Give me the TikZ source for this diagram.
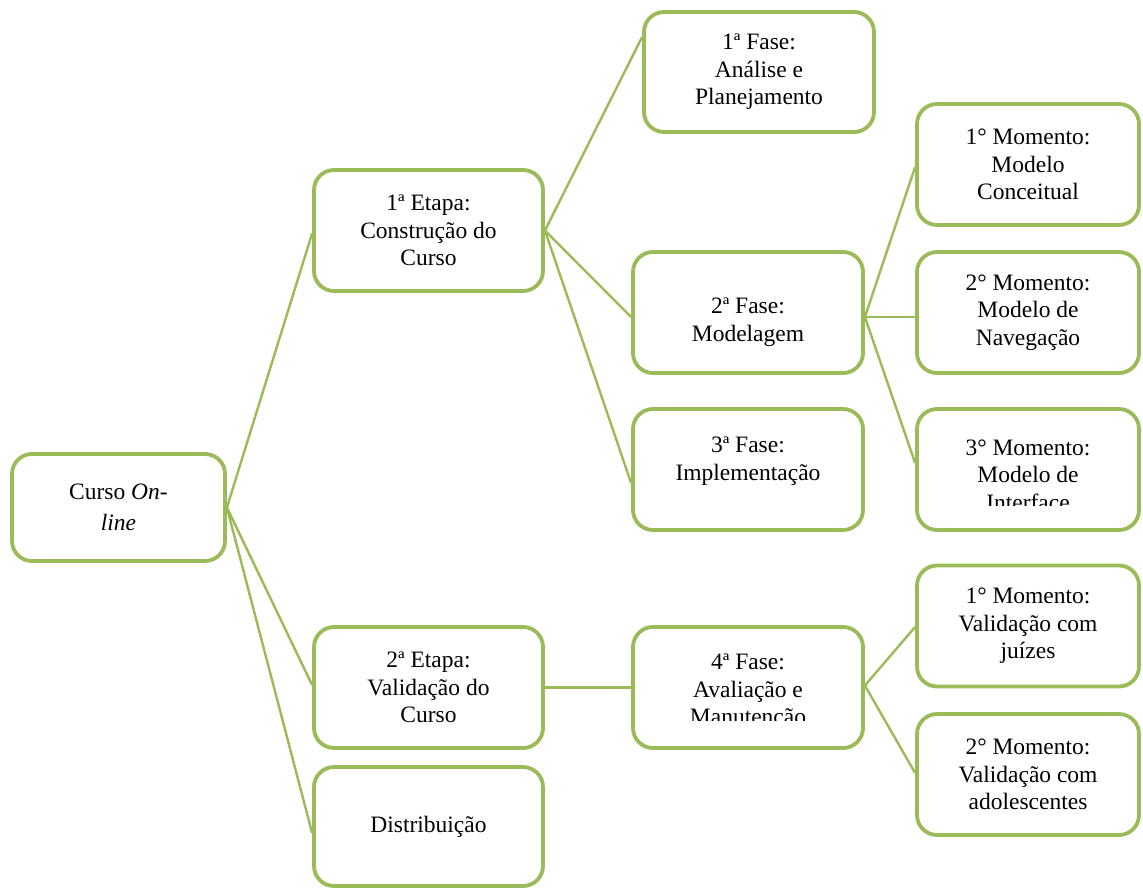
\documentclass[tikz,border=0pt]{standalone}
\usepackage{fontspec}
\setmainfont{Liberation Serif}
\definecolor{boxgreen}{HTML}{9BBB59}
\tikzset{
  box/.style={draw=boxgreen, line width=3.8pt, rounded corners=20pt, fill=white,
    minimum width=#1, minimum height=121pt, inner sep=0pt},
  box/.default=229pt,
  txt/.style={align=center, inner sep=0pt, font=\fontsize{23.5}{27.5}\selectfont},
  link/.style={draw=boxgreen, line width=2.4pt}
}
\begin{document}
\begin{tikzpicture}[x=1pt,y=-1pt]
\useasboundingbox (0,0) rectangle (1143,889);
% boxes
\node[box=213pt, minimum height=107pt, txt] (on) at (118.5,507.5) {Curso \textit{On-}\\[4pt]\textit{line}};
\node[box, txt] (e1) at (428.5,230.5) {1ª Etapa:\\Construção do\\Curso};
\node[box, txt] (e2) at (428.5,687.5) {2ª Etapa:\\Validação do\\Curso};
\node[box, minimum height=119pt, txt] (dist) at (428.5,826.5) {Distribuição};
\node[box=230pt, minimum height=120pt, txt] (f1) at (759,72) {1ª Fase:\\Análise e\\Planejamento};
\node[box=230pt] (f2) at (748,312.5) {};
\node[txt] (f2t) at (748,322) {2ª Fase:\\Modelagem};
\node[box=230pt] (f3) at (748,469.5) {};
\node[txt] (f3t) at (748,461) {3ª Fase:\\Implementação};
\node[box=230pt] (f4) at (748,687.5) {};
\node[box=222pt, txt] (m1) at (1028,164.5) {1° Momento:\\Modelo\\Conceitual};
\node[box=222pt, txt] (m2) at (1028,312.5) {2° Momento:\\Modelo de\\Navegação};
\node[box=222pt] (m3) at (1028,469.5) {};
\node[box=222pt, txt] (v1) at (1028,626) {1° Momento:\\Validação com\\juízes};
\node[box=222pt, txt] (v2) at (1028,774.5) {2° Momento:\\Validação com\\adolescentes};
% clipped texts
\begin{scope}
  \clip (920,420) rectangle (1136,505);
  \node[txt] (m3t) at (1028,475) {3° Momento:\\Modelo de\\Interface};
\end{scope}
\begin{scope}
  \clip (636,640) rectangle (860,720);
  \node[txt] (f4t) at (748,692) {4ª Fase:\\Avaliação e\\Manutenção};
\end{scope}
% connectors
\draw[link] (on.east) -- ([yshift=-3pt]e1.west);
\draw[link] (on.east) -- ([yshift=2.5pt]e2.west);
\draw[link] (on.east) -- ([yshift=-6.5pt]dist.west);
\draw[link] (e1.east) -- ([yshift=35pt]f1.west);
\draw[link] (e1.east) -- ([yshift=-4.5pt]f2.west);
\draw[link] (e1.east) -- ([yshift=-13.5pt]f3.west);
\draw[link] ([yshift=-4.5pt]f2.east) -- ([yshift=-2.5pt]m1.west);
\draw[link] ([yshift=-4.5pt]f2.east) -- ([yshift=-4.5pt]m2.west);
\draw[link] ([yshift=-4.5pt]f2.east) -- ([yshift=6.5pt]m3.west);
\draw[link] (e2.east) -- (f4.west);
\draw[link] ([yshift=2pt]f4.east) -- ([yshift=-1pt]v1.west);
\draw[link] ([yshift=2pt]f4.east) -- ([yshift=1.5pt]v2.west);
\end{tikzpicture}
\end{document}
